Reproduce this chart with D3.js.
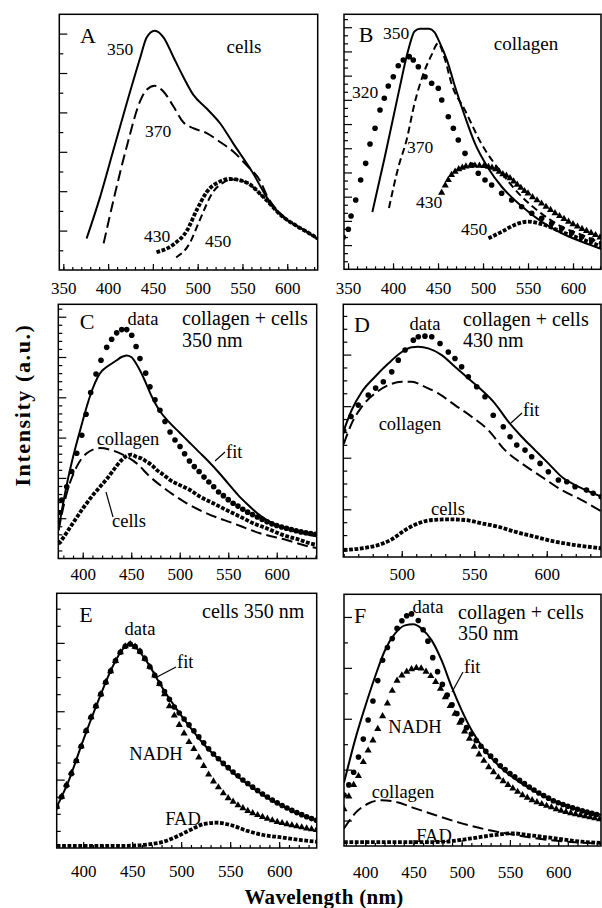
<!DOCTYPE html>
<html lang="en">
<head>
<meta charset="utf-8">
<title>Fluorescence spectra A-F</title>
<script src="https://d3js.org/d3.v7.min.js"></script>
<style>
body { margin:0; background:#fff; }
svg text { font-family: "Liberation Serif", "Times New Roman", serif; fill:#000; }
.frame { fill:none; stroke:#000; stroke-width:1.5; }
.tick line { stroke:#000; stroke-width:1.2; }
.solid { fill:none; stroke:#000; stroke-width:2; }
.dash { fill:none; stroke:#000; stroke-width:2; stroke-dasharray:11 5; }
.dash2 { fill:none; stroke:#000; stroke-width:2; stroke-dasharray:7 4; }
.sq { fill:none; stroke:#000; stroke-width:3.8; stroke-dasharray:3.8 1.6; }
.lead { stroke:#000; stroke-width:1.2; }
.title { font-weight:bold; }
</style>
</head>
<body>
<svg id="chart" width="602" height="908"></svg>
<script>
// tick labels
var xLabAB = [350, 400, 450, 500, 550, 600];
var xLabCEF = [400, 450, 500, 550, 600];
var xLabD = [500, 550, 600];

// A: cells, excitation 350 / 370 / 430 / 450
var aEx350 = [[376,1.6],[391,3.7],[406,6.1],[421,8.5],[436,10.8],[443,11.8],[452,12.15],[462,11.8],[473,10.8],[484,9.8],[495,8.9],[510,8.2],[525,7.45],[540,6.4],[562,4.9],[577,3.7],[595,2.7],[610,2.25],[625,1.85],[634,1.55]];
var aEx370 = [[395,1.35],[406,3.55],[421,6.3],[436,8.6],[443,9.15],[452,9.35],[462,9.05],[473,8.3],[484,7.5],[495,7.2],[510,6.95],[525,6.5],[540,6.0],[555,5.3],[570,4.5],[577,3.8],[595,2.75],[610,2.25],[625,1.85],[634,1.55]];
var aEx430 = [[454,0.9],[473,1.3],[488,2.0],[499,3.05],[510,3.95],[525,4.5],[536,4.62],[555,4.43],[573,3.72],[595,2.7],[610,2.25],[625,1.85],[634,1.6]];
var aEx450 = [[476,0.64],[491,1.35],[502,2.5],[517,3.95],[529,4.45],[540,4.6],[555,4.43],[573,3.72],[595,2.7],[610,2.25],[625,1.85],[634,1.6]];

// B: collagen, excitation 320 / 350 / 370 / 430 / 450
var bEx350 = [[377,7.1],[391,14.0],[406,21.8],[417,27.2],[424,29.5],[430,29.8],[440,29.8],[446,29.4],[451,28.3],[460,25.9],[469,22.6],[480,18.9],[491,15.6],[506,12.5],[521,10.2],[543,7.8],[565,5.9],[587,4.5],[610,3.4],[632,2.5]];
var bEx370 = [[395.5,7.6],[406,12.7],[415,16.0],[424,20.6],[434,24.3],[443,26.6],[450,28.0],[458,25.9],[465,23.0],[480,19.7],[498,15.6],[521,11.9],[543,9.0],[565,6.9],[587,5.3],[610,4.25],[632,3.2]];
var bEx320 = [[344.7,3.97],[350.3,4.96],[353.3,6.6],[358.5,8.59],[364,11.07],[369.6,13.13],[374.4,15.53],[380,17.47],[385.5,19.74],[390.3,21.19],[394.7,22.71],[400.3,23.87],[405.8,25.23],[411.4,25.94],[418,26.35],[422.5,25.94],[428.1,25.1],[435.5,23.87],[442.9,23.05],[450.3,22.43],[454.1,20.98],[461.4,18.91],[467,17.47],[472.5,16.02],[480,14.37],[487.4,12.92],[494.7,11.9],[502.2,11.07],[509.6,10.45],[520.7,9.42],[531.8,8.59],[542.9,7.76],[554.1,6.94],[565.2,6.32],[576.3,5.7],[587.4,5.08],[598.5,4.54],[609.6,4.04],[620.7,3.63],[631.8,3.22]];
var bEx430 = [[454,9.5],[458,10.4],[461.4,11.07],[465,11.7],[469,12.1],[473,12.4],[477,12.6],[481,12.75],[486,12.84],[491,12.86],[496,12.84],[501,12.8],[506,12.7],[510,12.6],[514,12.4],[518,12.1],[522,11.8],[526,11.6],[530,11.3],[534,10.9],[538,10.5],[542,10.1],[546,9.7],[550,9.4],[555,8.95],[560,8.55],[565,8.15],[570,7.75],[575,7.35],[580,6.95],[585,6.6],[590,6.25],[595,5.9],[600,5.6],[605,5.3],[610,5.0],[615,4.75],[620,4.5],[625,4.25],[630,3.95]];
var bEx450 = [[506,3.84],[521,4.66],[535,5.5],[550,5.9],[565,5.6],[587,4.66],[610,3.72],[632,2.8]];

// C: collagen + cells, 350 nm
var cData = [[375,5.7],[378.3,7.26],[383.5,8.9],[388.6,10.8],[393.8,13.05],[399,15.3],[403.4,17.9],[408.2,20.6],[413.7,22.9],[418.8,24.6],[424.7,26.2],[429.8,27.2],[435,28.0],[440.2,28.4],[445.3,28.4],[450.5,27.7],[455,26.3],[459,24.8],[464.9,23.0],[469.3,21.3],[474.5,19.7],[479.6,18.4],[484.8,17.0],[490,15.7],[495.1,14.7],[500.3,13.9],[505,13.0],[510,12.1],[515,11.4],[520,10.8],[525,10.1],[530,9.5],[535,8.9],[540,8.25],[545,7.8],[550,7.3],[555,6.85],[560,6.5],[565,6.1],[570,5.75],[575,5.45],[580,5.15],[585,4.85],[590,4.55],[595,4.3],[600,4.1],[605,3.9],[610,3.75],[615,3.6],[620,3.45],[625,3.3],[630,3.2],[635,3.1],[640,3.0]];
var cFit = [[375,3.5],[380,7.0],[385,10.0],[390,12.6],[395,14.9],[400,17.1],[405,19.2],[410,21.0],[415,22.4],[420,23.3],[425,23.8],[430,24.2],[435,24.6],[440,25.0],[445,25.2],[450,25.0],[455,24.2],[460,23.1],[465,21.8],[470,20.4],[475,19.2],[480,18.2],[490,16.8],[500,15.6],[510,14.4],[520,13.2],[530,12.0],[540,10.7],[550,9.3],[560,7.9],[570,6.7],[580,5.6],[590,4.75],[600,4.15],[610,3.7],[620,3.35],[630,3.05],[641,2.75]];
var cCollagen = [[375,3.5],[383.5,8.1],[393.8,11.4],[404.1,13.05],[417.8,13.7],[428.1,13.5],[441.8,12.85],[455.6,11.8],[469.3,10.15],[486.5,8.5],[507.2,6.85],[527.8,5.6],[555.2,4.37],[582.7,3.13],[610.1,2.3],[634,1.46],[641,1.3]];
var cCells = [[375,1.8],[380,2.6],[385,3.5],[390,4.4],[395,5.3],[400,6.2],[405,7.0],[410,7.8],[415,8.5],[420,9.2],[425,9.9],[430,10.7],[435,11.5],[440,12.2],[445,12.7],[450,12.9],[455.6,12.6],[460.8,12.4],[466,12.0],[471.1,11.6],[476.2,11.0],[483,10.4],[490,9.74],[500.3,9.1],[510.6,8.5],[520.9,7.67],[534.6,6.85],[548.4,6.0],[562.1,5.2],[575.8,4.37],[589.6,3.75],[606.8,2.9],[624,2.3],[634,1.9],[641,1.7]];

// D: collagen + cells, 430 nm
var dData = [[460,9.79],[465,10.9],[470,11.78],[476.9,12.56],[482,13.1],[487.3,13.59],[493.1,14.36],[497.6,15.27],[502.3,16.05],[508,16.82],[511.4,17.08],[516,17.13],[520.7,17.08],[526.4,16.56],[532.1,15.9],[536.7,15.4],[541.3,14.75],[545.9,13.98],[551.7,13.2],[557.4,12.43],[563.1,11.0],[570,10.1],[574.7,9.33],[579.3,8.68],[585,8.29],[589.6,7.78],[595.4,7.26],[601.1,6.61],[608,5.97],[613.8,5.84],[619.5,5.45],[627.4,5.19],[632,4.95],[637.5,4.67]];
var dFit = [[460,9.8],[465.5,11.4],[472.4,12.8],[481.6,13.98],[490.7,15.0],[500,15.9],[506.9,16.26],[511.4,16.3],[518.3,16.18],[527.6,15.66],[536.7,14.75],[545.9,13.85],[555.1,12.95],[564.3,11.9],[573.5,10.5],[582.7,9.33],[591.9,8.29],[601.1,7.26],[610.3,6.22],[621.8,5.45],[638,4.67]];
var dCollagen = [[460,8.76],[465.5,10.36],[472.4,11.65],[481.6,12.69],[490.7,13.33],[500,13.59],[506.9,13.59],[516,13.2],[525.2,12.69],[536.7,11.78],[548.2,10.88],[559.7,9.84],[571.2,8.29],[582.7,7.26],[596.5,6.22],[610.3,5.19],[624.1,4.42],[638,3.51]];
var dCells = [[460,0.54],[472.4,0.67],[483.8,0.93],[493.1,1.37],[502.3,2.09],[511.4,2.61],[520.7,2.87],[532.1,2.92],[543.6,2.87],[555.1,2.61],[566.6,2.35],[578.1,1.96],[591.9,1.57],[605.7,1.19],[619.5,0.93],[638,0.67]];

// E: cells, 350 nm
var eData = [[373,2.42],[378,3.0],[383,3.65],[388,4.35],[393,5.1],[398,5.95],[403,6.85],[408,7.65],[413,8.3],[418,9.0],[423,9.7],[428,10.35],[433,10.95],[438,11.45],[443,11.8],[448,11.93],[453,11.78],[458,11.5],[463,11.08],[468,10.6],[473,10.1],[478,9.62],[483,9.15],[488,8.7],[493,8.25],[498,7.9],[503,7.55],[508,7.2],[513,6.85],[518,6.5],[523,6.15],[528,5.8],[533,5.5],[538,5.22],[543,4.95],[548,4.7],[553,4.45],[558,4.22],[563,3.98],[568,3.77],[573,3.56],[578,3.36],[583,3.16],[588,2.98],[593,2.8],[598,2.64],[603,2.49],[608,2.34],[613,2.2],[618,2.07],[623,1.95],[628,1.83],[633,1.72],[638,1.62]];
var eFit = [[373,2.4],[385,3.9],[400,6.3],[415,8.55],[430,10.6],[440,11.6],[447,11.95],[455,11.65],[465,10.9],[480,9.45],[495,8.15],[510,7.0],[525,5.95],[540,5.1],[555,4.3],[570,3.65],[585,3.05],[600,2.55],[615,2.12],[630,1.78],[638,1.62]];
var eNADH = [[373,2.42],[378,3.0],[383,3.7],[388,4.4],[393,5.1],[398,5.95],[403,6.85],[408,7.65],[413,8.3],[418,9.0],[423,9.7],[428,10.35],[433,10.95],[438,11.45],[443,11.8],[448,11.93],[453,11.78],[458,11.5],[463,11.08],[468,10.6],[473,10.1],[478,9.6],[483,9.0],[488,8.3],[493,7.75],[498,7.2],[503,6.7],[508,6.2],[513,5.8],[518,5.3],[523,4.8],[528,4.3],[533,3.9],[538,3.55],[543,3.2],[548,2.92],[553,2.71],[558,2.5],[563,2.33],[568,2.17],[573,2.04],[578,1.93],[583,1.82],[588,1.72],[593,1.62],[598,1.53],[603,1.46],[608,1.39],[613,1.33],[618,1.27],[623,1.21],[628,1.15],[633,1.1],[638,1.05]];
var eFAD = [[373,0.12],[400,0.12],[430,0.12],[451,0.14],[468,0.22],[482,0.37],[495,0.66],[509,1.05],[523,1.4],[536,1.48],[550,1.35],[567,1.01],[584,0.76],[601,0.63],[621,0.47],[638,0.37]];

// F: collagen + cells, 350 nm
var fData = [[378,2.0],[383,2.4],[388,2.9],[393,3.5],[398,4.2],[403,4.95],[408,5.7],[413,6.5],[418,7.3],[423,7.8],[428,8.15],[433,8.55],[438,8.85],[443,9.05],[448,9.12],[455,8.86],[460,8.5],[465,8.05],[470,7.4],[475,6.85],[480,6.35],[485,5.93],[490,5.55],[495,5.2],[500,4.94],[505,4.65],[510,4.4],[515,4.15],[520,3.92],[525,3.72],[530,3.53],[535,3.36],[540,3.15],[545,3.0],[550,2.85],[555,2.72],[560,2.58],[565,2.45],[570,2.32],[575,2.2],[580,2.08],[585,1.98],[590,1.88],[595,1.78],[600,1.7],[605,1.63],[610,1.56],[615,1.5],[620,1.44],[625,1.38],[630,1.33],[635,1.28],[640,1.24]];
var fFit = [[378,2.5],[380.8,2.91],[389.4,4.16],[399.8,5.46],[410.1,6.64],[420.5,7.69],[430.8,8.34],[441.2,8.67],[449.8,8.71],[458.5,8.54],[468.9,8.08],[479.2,7.29],[489.6,6.25],[500,5.33],[510.3,4.55],[524.1,3.76],[541.4,3.05],[562.1,2.46],[582.9,2.0],[603.6,1.65],[624.3,1.38],[645,1.22]];
var fNADH = [[378,1.45],[383,1.95],[388,2.4],[393,2.75],[398,3.3],[403,3.75],[408,4.15],[413,4.6],[418,5.1],[423,5.6],[428,6.1],[433,6.5],[438,6.7],[443,6.85],[448,6.95],[453,7.0],[458,6.98],[463,6.85],[468,6.68],[473,6.45],[478,6.18],[483,5.85],[488,5.5],[493,5.2],[498,4.85],[503,4.5],[508,4.22],[513,3.9],[518,3.6],[523,3.35],[528,3.1],[533,2.9],[538,2.7],[543,2.55],[548,2.4],[553,2.26],[558,2.13],[563,2.0],[568,1.9],[573,1.8],[578,1.72],[583,1.65],[588,1.58],[593,1.52],[598,1.45],[603,1.39],[608,1.34],[613,1.29],[618,1.25],[623,1.21],[628,1.17],[633,1.13],[638,1.09],[643,1.05]];
var fCollagen = [[378,0.69],[389.4,1.28],[403.2,1.67],[417,1.8],[430.8,1.74],[451.6,1.48],[472.3,1.22],[500,0.89],[527.5,0.63],[555.2,0.43],[589.7,0.24],[624.3,0.13],[645,0.1]];
var fFAD = [[378,0.15],[400,0.15],[430,0.15],[460,0.15],[483,0.17],[510,0.3],[534,0.43],[552,0.5],[569,0.43],[597,0.3],[624,0.17],[645,0.12]];

var panels = [
  {name:"A", box:[59.3,14.3,317.7,270], xDom:[345.5,634], xLabels:xLabAB, labelTop:282,
   yMax:12.98, yStart:1, majorEvery:2, majorStart:0,
   series:[[aEx350,"solid"],[aEx370,"dash"],[aEx430,"sq"],[aEx450,"dash2"]],
   notes:[["A",88,43,22],["350",120,55,17.5],["cells",244,53,19],["370",158,137,17.5],["430",157,242,17.5],["450",218,247,17.5]],
   leads:[]},
  {name:"B", box:[344,14.3,601,269.3], xDom:[345.5,631.1], xLabels:xLabAB, labelTop:282,
   yMax:31.6, yStart:1, majorEvery:3, majorStart:0,
   series:[[bEx350,"solid"],[bEx370,"dash2"],[bEx320,"circle"],[bEx430,"tri"],[bEx450,"sq"]],
   notes:[["B",366,42,22],["350",396,39,17.5],["collagen",526,50,19],["320",365,98,17.5],["370",420,153,17.5],["430",429,208,17.5],["450",474,235,17.5]],
   leads:[]},
  {name:"C", box:[58.3,304.3,316.7,558.5], xDom:[374.8,641.2], xLabels:xLabCEF, labelTop:568,
   yMax:31.54, yStart:1, majorEvery:5, majorStart:0,
   series:[[cFit,"solid"],[cCollagen,"dash"],[cCells,"sq"],[cData,"circle"]],
   notes:[["C",87,329,22],["data",143,325,18.5],["collagen + cells",182,325,20,"start"],["350 nm",182,347,20,"start"],["collagen",128,445,18.5],["fit",226,458,18.5,"start"],["cells",129,527,18.5]],
   leads:[[215,461,225,452],[106,492,113,517]]},
  {name:"D", box:[343.3,304.3,601,557], xDom:[459.7,637.4], xLabels:xLabD, labelTop:568,
   yMax:19.6, yStart:0.7, majorEvery:4, majorStart:3.7,
   series:[[dFit,"solid"],[dCollagen,"dash"],[dCells,"sq"],[dData,"circle"]],
   notes:[["D",362,332,22],["data",425,330,18.5],["collagen + cells",463,326,20,"start"],["430 nm",463,347,20,"start"],["fit",523,416,18.5,"start"],["collagen",410,430,18.5],["cells",448,515,18.5]],
   leads:[[511,423,522,413]]},
  {name:"E", box:[56.7,593.3,316.7,848], xDom:[373,638.3], xLabels:xLabCEF, labelTop:865,
   yMax:14.9, yStart:1, majorEvery:4, majorStart:0,
   series:[[eFit,"solid"],[eFAD,"sq"],[eNADH,"tri"],[eData,"circle"]],
   notes:[["E",86,622,22],["cells 350 nm",202,618,20,"start"],["data",140,635,18.5],["fit",177,668,18.5,"start"],["NADH",156,760,18.5],["FAD",183,825,18.5]],
   leads:[[157,677,176,667]]},
  {name:"F", box:[344,594.3,601,846], xDom:[378,644.4], xLabels:xLabCEF, labelTop:866,
   yMax:9.89, yStart:1, majorEvery:2, majorStart:1,
   series:[[fFit,"solid"],[fCollagen,"dash"],[fFAD,"sq"],[fNADH,"tri"],[fData,"circle"]],
   notes:[["F",360,623,22],["data",428,613,18.5],["collagen + cells",458,619,20,"start"],["350 nm",458,640,20,"start"],["fit",464,673,18.5,"start"],["NADH",415,733,18.5],["collagen",403,798,18.5],["FAD",434,842,18.5]],
   leads:[[452,692,463,672]]}
];

var svg = d3.select("#chart");

panels.forEach(function(p){
  var l = p.box[0], t = p.box[1], r = p.box[2], b = p.box[3];
  var x = d3.scaleLinear().domain(p.xDom).range([l, r]);
  var y = d3.scaleLinear().domain([0, p.yMax]).range([b, t]);
  var g = svg.append("g").attr("class", "panel" + p.name);

  g.append("clipPath").attr("id", "clip" + p.name)
    .append("rect").attr("x", l).attr("y", t).attr("width", r - l).attr("height", b - t);

  // x ticks: minor every 10 nm, major every 50 nm with labels
  var minor = d3.range(Math.ceil(p.xDom[0] / 10) * 10, p.xDom[1], 10);
  g.append("g").attr("transform", "translate(0," + b + ")")
    .call(d3.axisBottom(x).tickValues(minor).tickSize(-3).tickFormat(""))
    .call(function(a){ a.select(".domain").remove(); });
  var major = d3.range(Math.ceil(p.xDom[0] / 50) * 50, p.xDom[1], 50);
  g.append("g").attr("transform", "translate(0," + b + ")")
    .call(d3.axisBottom(x).tickValues(major).tickSize(-6).tickFormat(""))
    .call(function(a){ a.select(".domain").remove(); });
  g.append("g").attr("transform", "translate(0," + b + ")")
    .call(d3.axisBottom(x).tickValues(p.xLabels).tickSize(0).tickPadding(p.labelTop - b).tickFormat(d3.format("d")))
    .attr("font-size", 17)
    .call(function(a){ a.select(".domain").remove(); });

  // y ticks, inward, no labels
  var yv = d3.range(p.yStart, p.yMax - 0.05, 1);
  var isMajor = function(v){ var k = (v - p.majorStart) / p.majorEvery; return Math.abs(k - Math.round(k)) < 1e-6; };
  g.append("g").attr("transform", "translate(" + l + ",0)")
    .call(d3.axisLeft(y).tickValues(yv.filter(function(v){ return !isMajor(v); })).tickSize(-4).tickFormat(""))
    .call(function(a){ a.select(".domain").remove(); });
  g.append("g").attr("transform", "translate(" + l + ",0)")
    .call(d3.axisLeft(y).tickValues(yv.filter(isMajor)).tickSize(-8).tickFormat(""))
    .call(function(a){ a.select(".domain").remove(); });

  var line = d3.line().x(function(d){ return x(d[0]); }).y(function(d){ return y(d[1]); }).curve(d3.curveMonotoneX);
  var plot = g.append("g").attr("clip-path", "url(#clip" + p.name + ")");

  p.series.forEach(function(s){
    var data = s[0], kind = s[1];
    if (kind === "circle") {
      plot.append("g").selectAll("circle").data(data).join("circle")
        .attr("cx", function(d){ return x(d[0]); }).attr("cy", function(d){ return y(d[1]); })
        .attr("r", 2.8).attr("fill", "#000");
    } else if (kind === "tri") {
      plot.append("g").selectAll("path").data(data).join("path")
        .attr("d", d3.symbol(d3.symbolTriangle, 22))
        .attr("transform", function(d){ return "translate(" + x(d[0]) + "," + y(d[1]) + ")"; })
        .attr("fill", "#000");
    } else {
      plot.append("path").datum(data).attr("class", kind).attr("d", line);
    }
  });

  g.append("rect").attr("class", "frame").attr("x", l).attr("y", t).attr("width", r - l).attr("height", b - t);

  p.leads.forEach(function(d){
    g.append("line").attr("class", "lead").attr("x1", d[0]).attr("y1", d[1]).attr("x2", d[2]).attr("y2", d[3]);
  });
  p.notes.forEach(function(n){
    g.append("text").attr("x", n[1]).attr("y", n[2]).attr("font-size", n[3])
      .attr("text-anchor", n[4] || "middle").text(n[0]);
  });
});

svg.append("text").attr("class", "title")
  .attr("transform", "translate(30,405) rotate(-90)")
  .attr("text-anchor", "middle").attr("font-size", 22).attr("letter-spacing", 1.6)
  .text("Intensity (a.u.)");
svg.append("text").attr("class", "title")
  .attr("x", 324).attr("y", 904)
  .attr("text-anchor", "middle").attr("font-size", 21).attr("letter-spacing", 0.3)
  .text("Wavelength (nm)");
</script>
</body>
</html>
